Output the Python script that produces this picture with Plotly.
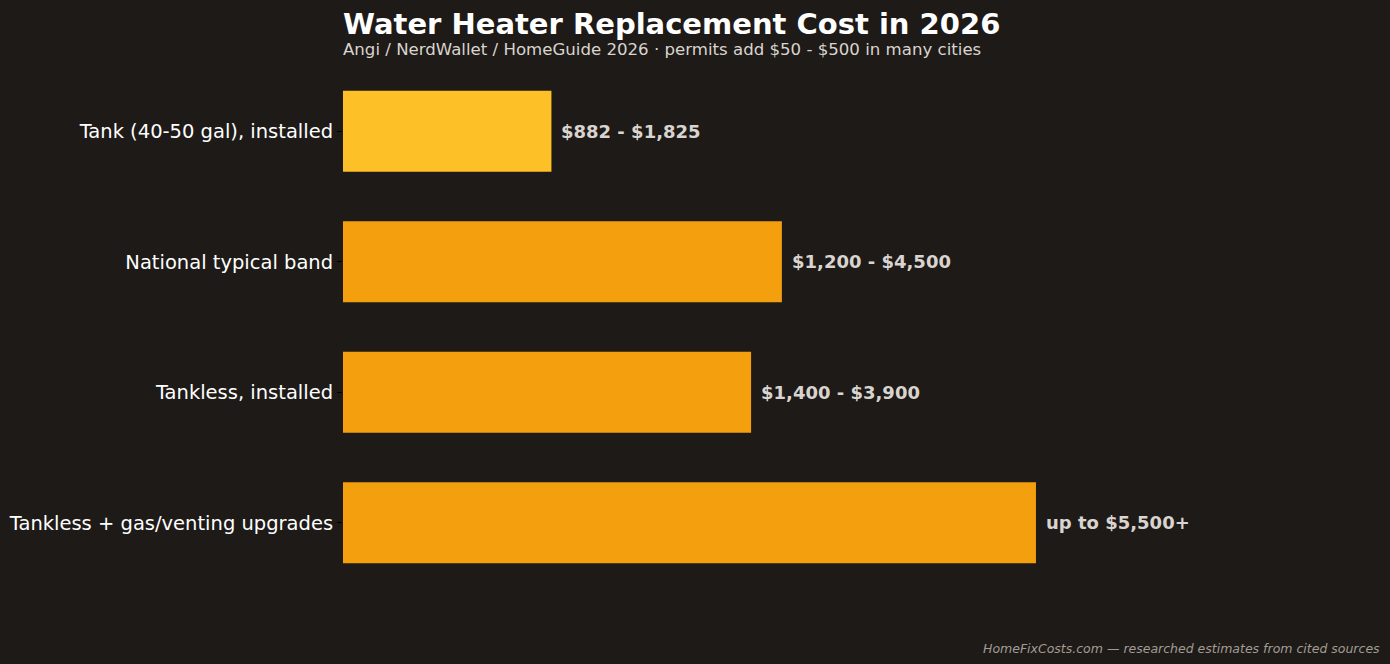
import plotly.graph_objects as go

categories = ["Tank (40-50 gal), installed", "National typical band", "Tankless, installed",
              "Tankless + gas/venting upgrades"]
bar_values = [1353.5, 2850, 2650, 4500]
value_labels = ["$882 - $1,825", "$1,200 - $4,500", "$1,400 - $3,900", "up to $5,500+"]
bar_colors = ["#FDC026", "#F39F0E", "#F39F0E", "#F39F0E"]

W, H = 1390, 664
L, R, T, B = 343, 10, 66, 76
ph = H - T - B

def py(ypix):
    return 1 - (ypix - T) / ph

fig = go.Figure(go.Bar(
    y=categories, x=bar_values, orientation="h",
    marker=dict(color=bar_colors, line=dict(width=0)),
    width=0.62,
))

annotations = [
    dict(text="<b>Water Heater Replacement Cost in 2026</b>", xref="paper", yref="paper",
         x=0, y=py(24), xanchor="left", yanchor="middle", showarrow=False, xshift=-2,
         font=dict(family="DejaVu Sans", size=29, color="#FFFFFF")),
    dict(text="Angi / NerdWallet / HomeGuide 2026 · permits add $50 - $500 in many cities",
         xref="paper", yref="paper", x=0, y=py(50), xanchor="left", yanchor="middle",
         showarrow=False, xshift=-2, font=dict(family="DejaVu Sans", size=16.6, color="#D9D4CF")),
    dict(text="<i>HomeFixCosts.com — researched estimates from cited sources</i>",
         xref="paper", yref="paper", x=(1380 - L) / (W - L - R), y=py(648),
         xanchor="right", yanchor="middle", showarrow=False, xshift=2,
         font=dict(family="DejaVu Sans", size=12.5, color="#A39C95")),
]
for cat, val, lab in zip(categories, bar_values, value_labels):
    annotations.append(dict(
        text=f"<b>{lab}</b>", x=val, y=cat, xref="x", yref="y",
        xanchor="left", yanchor="middle", showarrow=False, xshift=8,
        font=dict(family="DejaVu Sans", size=18, color="#D9D4CF")))

fig.update_layout(
    width=W, height=H,
    margin=dict(l=L, r=R, t=T, b=B),
    paper_bgcolor="#1E1A17", plot_bgcolor="#1E1A17",
    font=dict(family="DejaVu Sans", color="#FFFFFF"),
    showlegend=False,
    xaxis=dict(range=[0, 6734], visible=False, showgrid=False, zeroline=False),
    yaxis=dict(autorange="reversed", categoryorder="array", categoryarray=categories,
               showgrid=False, zeroline=False, showline=False,
               ticks="outside", ticklen=5, tickcolor="#000000", tickwidth=1,
               tickfont=dict(family="DejaVu Sans", size=19.5, color="#FFFFFF")),
    annotations=annotations,
)

fig.write_html("out.html")
